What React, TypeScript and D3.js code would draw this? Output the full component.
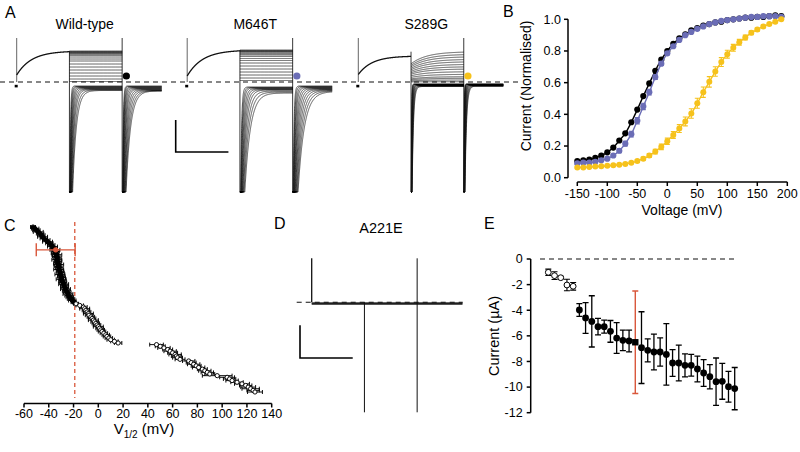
import React from 'react';
import * as d3 from 'd3';

const FONT = "'Liberation Sans', Arial, Helvetica, sans-serif";
const RED = '#d9573b';
const BLUE = '#6b6db6';
const YELLOW = '#f6c21c';

// ---------------- Panel A (current traces, arbitrary units µA / ms) ----------------
const A_TITLES = ['Wild-type', 'M646T', 'S289G'];
const A_DOT_COLORS = ['#000000', BLUE, YELLOW];
const A_PRE_START = [0.7, 0.6, 0.75];
const A_PRE_END = [3.1, 3.2, 2.6];
const A_PRE_TAU = [280, 290, 260];
const A_PEAK = -25;
const WT_OUT = [3.1, 3.05, 3.0, 2.95, 2.9, 2.85, 2.75, 2.65, 2.5, 2.3, 2.1, 1.8, 1.5, 1.2, 0.9, 0.6, 0.3, 0.05];
const M646T_OUT = [3.2, 3.15, 3.1, 3.05, 3.0, 2.9, 2.8, 2.7, 2.55, 2.35, 2.15, 1.9, 1.6, 1.3, 1.0, 0.7, 0.4, 0.15];
const S289G_OUT = [3.03, 2.77, 2.53, 2.27, 2.03, 1.77, 1.53, 1.3, 1.03, 0.77, 0.53, 0.37, 0.2, 0.03];
const A_OUT_ONSET = [1, 1, 0.6];
const A_OUT_TAU = [40, 40, 300];
const WT_IN_LEVEL = [-0.4, -0.45, -0.5, -0.55, -0.6, -0.65, -0.7, -0.75, -0.8, -0.85];
const WT_IN_TAU = [12, 16, 20, 25, 30, 36, 43, 50, 60, 70];
const M646T_IN_LEVEL = [-0.5, -0.55, -0.6, -0.65, -0.7, -0.75, -0.8, -0.9, -1.0, -1.1];
const M646T_IN_TAU = [18, 24, 30, 38, 46, 55, 65, 77, 90, 105];
const S289G_IN_LEVEL = [-0.2, -0.22, -0.25, -0.28, -0.3, -0.33, -0.36, -0.4, -0.42, -0.45];
const S289G_IN_TAU = [6, 7, 8, 10, 12, 14, 16, 19, 22, 25];
const WT_TAIL_LEVEL = [-0.4, -0.45, -0.5, -0.55, -0.6, -0.65, -0.7, -0.75, -0.8, -0.85, -0.88, -0.9];
const WT_TAIL_TAU = [12, 15, 19, 23, 28, 34, 40, 48, 56, 65, 75, 85];
const M646T_TAIL_LEVEL = [-0.4, -0.45, -0.5, -0.55, -0.6, -0.65, -0.7, -0.75, -0.8, -0.85, -0.9, -0.95];
const M646T_TAIL_TAU = [15, 20, 26, 32, 40, 48, 57, 67, 78, 90, 103, 117];
const S289G_TAIL_LEVEL = [-0.2, -0.22, -0.24, -0.26, -0.28, -0.3, -0.32, -0.34, -0.36, -0.38, -0.4, -0.42];
const S289G_TAIL_TAU = [5, 6, 7, 8, 10, 12, 14, 16, 19, 22, 25, 28];
const A_PHASES = [0, 1000, 2000, 2750]; // ms
const A_SCALE_BAR = { current: 3.2, time: 1000 };

// ---------------- Panel B (normalised activation) ----------------
const B_VOLTAGE = [-150, -140, -130, -120, -110, -100, -90, -80, -70, -60, -50, -40, -30, -20, -10, 0, 10, 20, 30, 40, 50, 60, 70, 80, 90, 100, 110, 120, 130, 140, 150, 160, 170, 180, 190];
const B_WT = [0.105, 0.11, 0.115, 0.125, 0.14, 0.16, 0.19, 0.235, 0.28, 0.35, 0.43, 0.515, 0.595, 0.675, 0.745, 0.8, 0.845, 0.88, 0.905, 0.93, 0.945, 0.96, 0.97, 0.98, 0.985, 0.995, 1.0, 1.005, 1.01, 1.01, 1.015, 1.015, 1.02, 1.025, 1.02];
const B_M646T = [0.09, 0.095, 0.095, 0.1, 0.11, 0.12, 0.14, 0.17, 0.215, 0.275, 0.36, 0.45, 0.54, 0.635, 0.72, 0.785, 0.83, 0.87, 0.9, 0.92, 0.94, 0.955, 0.97, 0.98, 0.99, 0.995, 1.0, 1.005, 1.01, 1.015, 1.015, 1.02, 1.02, 1.02, 1.015];
const B_M646T_ERR = [0.005, 0.005, 0.005, 0.005, 0.005, 0.005, 0.008, 0.012, 0.015, 0.018, 0.02, 0.02, 0.018, 0.015, 0.012, 0.01, 0.008, 0.005, 0.005, 0.005, 0.005, 0.005, 0.005, 0.005, 0.005, 0.005, 0.005, 0.005, 0.005, 0.005, 0.005, 0.005, 0.005, 0.005, 0.005];
const B_S289G = [0.065, 0.065, 0.068, 0.07, 0.072, 0.075, 0.078, 0.082, 0.087, 0.095, 0.105, 0.12, 0.14, 0.165, 0.195, 0.23, 0.27, 0.31, 0.355, 0.405, 0.47, 0.54, 0.605, 0.67, 0.73, 0.78, 0.82, 0.855, 0.885, 0.915, 0.935, 0.955, 0.97, 0.985, 1.0];
const B_S289G_ERR = [0.005, 0.005, 0.005, 0.005, 0.005, 0.005, 0.005, 0.005, 0.005, 0.005, 0.008, 0.01, 0.012, 0.015, 0.018, 0.02, 0.022, 0.025, 0.028, 0.03, 0.032, 0.033, 0.033, 0.03, 0.028, 0.025, 0.022, 0.018, 0.015, 0.012, 0.01, 0.008, 0.006, 0.005, 0.005];
const B_X_TICKS = [-150, -100, -50, 0, 50, 100, 150, 200];
const B_Y_TICKS = [0, 0.2, 0.4, 0.6, 0.8, 1.0];

// ---------------- Panel C (V1/2 of individual cells, ranked) ----------------
const C_V = [
  -52.7, -51, -50, -48.5, -47, -46, -45, -44, -42, -41, -39.5, -38, -37,
  -36, -35, -34.5, -35, -33.5, -34, -33, -33.5, -32.5, -33, -32, -32.5, -31.5, -32, -31, -30.5, -31, -30, -29.5, -30, -29, -28.5, -28, -27.5, -27, -26.5, -26, -25, -24.5, -24, -23, -22, -21, -20,
  -18, -15, -12, -11, -10, -9, -8, -7.5, -6, -5, -4, -3, -2, -1, 0, 1, 2, 3, 4.5, 6, 7, 8.5, 10, 13, 16,
  47, 50, 53, 56, 58, 60, 62, 63, 64, 66, 73, 75, 77, 79, 81, 84, 86, 88, 90, 96, 104, 106, 108, 112, 116, 119, 121, 123, 125, 126.5,
];
const C_ERR = [
  2, 3, 3, 4, 3, 3, 4, 3, 3, 4, 3, 3, 4,
  3, 4, 3, 3, 4, 3, 3, 4, 3, 3, 4, 3, 3, 4, 3, 3, 4, 3, 3, 4, 3, 3, 4, 3, 3, 4, 3, 3, 4, 3, 3, 3, 3, 2,
  2, 3, 3, 4, 3, 3, 4, 3, 3, 3, 4, 3, 3, 3, 4, 3, 3, 3, 3, 3, 3, 3, 3, 3, 3,
  5.5, 4, 5, 4, 5, 4, 5, 4, 4, 4, 5, 4, 5, 4, 5, 4, 5, 5, 4, 12, 6, 5, 5, 5, 6, 5, 6, 7, 5, 6,
];
const C_MEAN = -34.4;
const C_MEAN_ERR = 15.7;
const C_MEAN_RANK = 14;
const C_THRESHOLD = -19;
const C_X_TICKS = [-60, -40, -20, 0, 20, 40, 60, 80, 100, 120, 140];

// ---------------- Panel D (A221E trace) ----------------
const D_TITLE = 'A221E';
const D_STEADY = [-0.05, -0.12, -0.2];
const D_PHASES = [0, 1000, 2000, 2860];

// ---------------- Panel E (current amplitudes) ----------------
const E_OPEN = [-1.04, -1.3, -1.46, -2.03, -2.13];
const E_OPEN_ERR = [0.25, 0.3, 0.1, 0.45, 0.3];
const E_FILLED = [-3.98, -4.6, -4.87, -5.28, -5.28, -5.65, -6.17, -6.35, -6.4, -6.5, -6.92, -7.13, -7.26, -7.26, -7.45, -8.12, -8.12, -8.3, -8.3, -8.59, -8.9, -9.19, -9.58, -9.55, -9.97, -10.12];
const E_FILLED_ERR = [0.5, 1.2, 2.0, 0.65, 0.5, 0.85, 1.2, 0.8, 0.85, 4.0, 2.8, 0.9, 1.4, 1.1, 2.4, 1.05, 1.4, 0.9, 0.85, 1.0, 1.05, 0.95, 1.85, 1.4, 1.2, 1.65];
const E_HIGHLIGHT = 9;
const E_Y_TICKS = [0, -2, -4, -6, -8, -10, -12];

// ======================================================================
const tA = d3.scaleLinear().domain([0, 2750]).range([0, 145]);
const yA = d3.scaleLinear().domain([-11, 4.4]).range([192, 38]);
const A_ORIGIN = [16.7, 187.2, 358.3];

function relax(t0: number, t1: number, start: number, end: number, tau: number, step = 2) {
  const pts: [number, number][] = [];
  for (let t = t0; t <= t1 + 1e-6; t += step) {
    const c = end + (start - end) * Math.exp(-(t - t0) / tau);
    pts.push([t, Math.max(-11, Math.min(4.4, c))]);
  }
  return pts;
}

const A_CFG = [
  { out: WT_OUT, inL: WT_IN_LEVEL, inT: WT_IN_TAU, tailL: WT_TAIL_LEVEL, tailT: WT_TAIL_TAU },
  { out: M646T_OUT, inL: M646T_IN_LEVEL, inT: M646T_IN_TAU, tailL: M646T_TAIL_LEVEL, tailT: M646T_TAIL_TAU },
  { out: S289G_OUT, inL: S289G_IN_LEVEL, inT: S289G_IN_TAU, tailL: S289G_TAIL_LEVEL, tailT: S289G_TAIL_TAU },
];

function TraceFamily({ idx }: { idx: number }) {
  const ox = A_ORIGIN[idx];
  const cfg = A_CFG[idx];
  const line = d3.line<[number, number]>().x((d) => ox + tA(d[0])).y((d) => yA(d[1]));
  const [p0, p1, p2, p3] = A_PHASES;
  const paths: string[] = [];
  paths.push(line(relax(p0, p1, A_PRE_START[idx], A_PRE_END[idx], A_PRE_TAU[idx]))!);
  cfg.out.forEach((lv) => {
    paths.push(line(relax(p1, p2, lv * A_OUT_ONSET[idx], lv, A_OUT_TAU[idx], 4))!);
  });
  cfg.inL.forEach((lv, k) => {
    paths.push(line(relax(p1, p2, A_PEAK, lv, cfg.inT[k], 1))!);
  });
  cfg.tailL.forEach((lv, k) => {
    paths.push(line(relax(p2, p3, A_PEAK, lv, cfg.tailT[k], 1))!);
  });
  const x0 = ox + tA(p0);
  const x1 = ox + tA(p1);
  const x2 = ox + tA(p2);
  const topOut = Math.max(d3.max(cfg.out)!, A_PRE_END[idx]);
  return (
    <g>
      <text x={ox + 68} y={29} fontSize={14} textAnchor="middle">{A_TITLES[idx]}</text>
      <rect x={x0 - 2} y={yA(-0.4) - 1.2} width={3} height={2.6} fill="#000" />
      <line x1={x0} x2={x0} y1={yA(4.4)} y2={yA(0)} stroke="#555" strokeWidth={0.9} />
      <line x1={x1} x2={x1} y1={yA(topOut)} y2={yA(-11)} stroke="#222" strokeWidth={0.9} />
      <line x1={x2} x2={x2} y1={yA(4.4)} y2={yA(-11)} stroke="#222" strokeWidth={0.9} />
      {paths.map((p, i) => (
        <path key={i} d={p} fill="none" stroke="#111" strokeWidth={i === 0 ? 1.3 : 0.7} />
      ))}
      <circle cx={x2 + 4.2} cy={yA(0.6)} r={3.6} fill={A_DOT_COLORS[idx]} />
    </g>
  );
}

function PanelA() {
  return (
    <g>
      <text x={5} y={18} fontSize={16}>A</text>
      <line x1={0} x2={520} y1={yA(0)} y2={yA(0)} stroke="#111" strokeWidth={1.2} strokeDasharray="5,4" />
      {[0, 1, 2].map((i) => <TraceFamily key={i} idx={i} />)}
      <path
        d={`M175.7,${yA(0) + 38} V${yA(0) + 38 + A_SCALE_BAR.current * 10} H${175.7 + tA(A_SCALE_BAR.time)}`}
        fill="none" stroke="#000" strokeWidth={1.6}
      />
    </g>
  );
}

// ---------------- B ----------------
function PanelB() {
  const x = d3.scaleLinear().domain([-150, 200]).range([577.3, 787.3]);
  const y = d3.scaleLinear().domain([0, 1]).range([177.7, 19.3]);
  const line = d3.line<number>().x((_, i) => x(B_VOLTAGE[i])).y((d) => y(d)).curve(d3.curveMonotoneX);
  const series = [
    { vals: B_WT, err: null as number[] | null, color: '#000', r: 3.1 },
    { vals: B_M646T, err: B_M646T_ERR, color: BLUE, r: 3.1 },
    { vals: B_S289G, err: B_S289G_ERR, color: YELLOW, r: 3.0 },
  ];
  const axY = 182;
  const axX = 568;
  return (
    <g fontSize={12.5}>
      <text x={503} y={17} fontSize={16}>B</text>
      <line x1={axX} x2={axX} y1={y(1)} y2={y(0)} stroke="#000" strokeWidth={1.5} />
      {B_Y_TICKS.map((t) => (
        <g key={t}>
          <line x1={axX - 4} x2={axX} y1={y(t)} y2={y(t)} stroke="#000" strokeWidth={1.5} />
          <text x={axX - 7} y={y(t) + 4.3} textAnchor="end">{d3.format('.1f')(t)}</text>
        </g>
      ))}
      <line x1={x(-150)} x2={x(200)} y1={axY} y2={axY} stroke="#000" strokeWidth={1.5} />
      {B_X_TICKS.map((t) => (
        <g key={t}>
          <line x1={x(t)} x2={x(t)} y1={axY} y2={axY + 4} stroke="#000" strokeWidth={1.5} />
          <text x={x(t)} y={axY + 16} textAnchor="middle">{t}</text>
        </g>
      ))}
      <text x={682} y={215} fontSize={14} textAnchor="middle">Voltage (mV)</text>
      <text transform="translate(531,86) rotate(-90)" fontSize={14} textAnchor="middle">Current (Normalised)</text>
      {series.map((s, si) => (
        <g key={si}>
          <path d={line(s.vals)!} fill="none" stroke={s.color} strokeWidth={1.4} />
          {s.err && s.vals.map((v, i) => (
            <path key={'e' + i}
              d={`M${x(B_VOLTAGE[i]) - 2.5},${y(v + s.err![i])}H${x(B_VOLTAGE[i]) + 2.5}M${x(B_VOLTAGE[i])},${y(v + s.err![i])}V${y(v - s.err![i])}M${x(B_VOLTAGE[i]) - 2.5},${y(v - s.err![i])}H${x(B_VOLTAGE[i]) + 2.5}`}
              stroke={s.color} strokeWidth={1.1} fill="none" />
          ))}
          {s.vals.map((v, i) => (
            <circle key={i} cx={x(B_VOLTAGE[i])} cy={y(v)} r={s.r} fill={s.color} />
          ))}
        </g>
      ))}
    </g>
  );
}

// ---------------- C ----------------
function PanelC() {
  const x = d3.scaleLinear().domain([-60, 140]).range([24, 271.7]);
  const y = d3.scaleLinear().domain([0, C_V.length - 1]).range([227, 392]);
  const axY = 403.5;
  return (
    <g fontSize={12.5}>
      <text x={4} y={231} fontSize={16}>C</text>
      <line x1={x(C_THRESHOLD)} x2={x(C_THRESHOLD)} y1={222} y2={398} stroke={RED} strokeWidth={1.3} strokeDasharray="4,3" />
      {C_V.map((v, i) => (
        <path key={'e' + i}
          d={`M${x(v - C_ERR[i])},${y(i) - 2}V${y(i) + 2}M${x(v - C_ERR[i])},${y(i)}H${x(v + C_ERR[i])}M${x(v + C_ERR[i])},${y(i) - 2}V${y(i) + 2}`}
          stroke="#000" strokeWidth={0.95} fill="none" />
      ))}
      {C_V.map((v, i) => (
        <circle key={i} cx={x(v)} cy={y(i)} r={2.1} fill={v < C_THRESHOLD ? '#000' : '#fff'} stroke="#000" strokeWidth={0.95} />
      ))}
      <path
        d={`M${x(C_MEAN - C_MEAN_ERR)},${y(C_MEAN_RANK) - 6.5}V${y(C_MEAN_RANK) + 6.5}M${x(C_MEAN - C_MEAN_ERR)},${y(C_MEAN_RANK)}H${x(C_MEAN + C_MEAN_ERR)}M${x(C_MEAN + C_MEAN_ERR)},${y(C_MEAN_RANK) - 6.5}V${y(C_MEAN_RANK) + 6.5}`}
        stroke={RED} strokeWidth={1.4} fill="none" />
      <circle cx={x(C_MEAN)} cy={y(C_MEAN_RANK)} r={2.6} fill={RED} />
      <line x1={x(-60)} x2={x(140)} y1={axY} y2={axY} stroke="#000" strokeWidth={1.5} />
      {C_X_TICKS.map((t) => (
        <g key={t}>
          <line x1={x(t)} x2={x(t)} y1={axY} y2={axY + 4} stroke="#000" strokeWidth={1.5} />
          <text x={x(t)} y={axY + 14.5} textAnchor="middle">{t}</text>
        </g>
      ))}
      <text x={144} y={434} fontSize={15} textAnchor="middle">
        V<tspan fontSize={10} dy={4}>1/2</tspan><tspan dy={-4}> (mV)</tspan>
      </text>
    </g>
  );
}

// ---------------- D ----------------
function PanelD() {
  const ox = 311.7;
  const yD = d3.scaleLinear().domain([-11, 4.4]).range([412.3, 258.3]);
  const x0 = ox + tA(D_PHASES[0]);
  const x1 = ox + tA(D_PHASES[1]);
  const x2 = ox + tA(D_PHASES[2]);
  const x3 = ox + tA(D_PHASES[3]);
  return (
    <g>
      <text x={274} y={229} fontSize={16}>D</text>
      <text x={381} y={233} fontSize={14.5} textAnchor="middle">{D_TITLE}</text>
      <line x1={296.7} x2={462.7} y1={yD(0)} y2={yD(0)} stroke="#111" strokeWidth={1.1} strokeDasharray="5,4" />
      {D_STEADY.map((s, i) => (
        <line key={i} x1={x0} x2={x3} y1={yD(s)} y2={yD(s)} stroke="#111" strokeWidth={0.9} />
      ))}
      <line x1={x0} x2={x0} y1={yD(4.4)} y2={yD(0)} stroke="#111" strokeWidth={1.3} />
      <line x1={x1} x2={x1} y1={yD(0)} y2={yD(-11)} stroke="#111" strokeWidth={1} />
      <line x1={x2} x2={x2} y1={yD(4.4)} y2={yD(-11)} stroke="#111" strokeWidth={1} />
      <path d={`M300,${yD(0) + 23} V${yD(0) + 23 + A_SCALE_BAR.current * 10.2} H${300 + tA(A_SCALE_BAR.time)}`} fill="none" stroke="#000" strokeWidth={1.6} />
    </g>
  );
}

// ---------------- E ----------------
function PanelE() {
  const n = E_OPEN.length + E_FILLED.length;
  const x = d3.scaleLinear().domain([0, n - 1]).range([548.3, 734.7]);
  const y = d3.scaleLinear().domain([-12, 0]).range([412.7, 259]);
  const axX = 530.7;
  const bar = (cx: number, v: number, e: number) =>
    `M${cx - 3},${y(v + e)}H${cx + 3}M${cx},${y(v + e)}V${y(v - e)}M${cx - 3},${y(v - e)}H${cx + 3}`;
  return (
    <g fontSize={12.5}>
      <text x={484} y={229} fontSize={16}>E</text>
      <line x1={axX} x2={axX} y1={y(0)} y2={y(-12)} stroke="#000" strokeWidth={1.5} />
      {E_Y_TICKS.map((t) => (
        <g key={t}>
          <line x1={axX - 4} x2={axX} y1={y(t)} y2={y(t)} stroke="#000" strokeWidth={1.5} />
          <text x={axX - 8} y={y(t) + 4.3} textAnchor="end">{t}</text>
        </g>
      ))}
      <text transform="translate(499,336) rotate(-90)" fontSize={14.5} textAnchor="middle">Current (µA)</text>
      <line x1={540} x2={735} y1={y(0)} y2={y(0)} stroke="#111" strokeWidth={1.2} strokeDasharray="5,4" />
      {E_OPEN.map((v, i) => (
        <g key={'o' + i}>
          <path d={bar(x(i), v, E_OPEN_ERR[i])} stroke="#000" strokeWidth={1.1} fill="none" />
          <circle cx={x(i)} cy={y(v)} r={2.9} fill="#fff" stroke="#000" strokeWidth={1} />
        </g>
      ))}
      {E_FILLED.map((v, k) => {
        const i = k + E_OPEN.length;
        const hl = k === E_HIGHLIGHT;
        return (
          <g key={'f' + k}>
            <path d={bar(x(i), v, E_FILLED_ERR[k])} stroke={hl ? RED : '#000'} strokeWidth={hl ? 1.4 : 1.3} fill="none" />
            {hl ? (
              <rect x={x(i) - 3.2} y={y(v) - 3.2} width={6.4} height={6.4} fill="#000" />
            ) : (
              <circle cx={x(i)} cy={y(v)} r={3.4} fill="#000" />
            )}
          </g>
        );
      })}
    </g>
  );
}

export default function App() {
  return (
    <svg width={800} height={452} style={{ position: 'absolute', left: 0, top: 0, display: 'block' }} fontFamily={FONT}>
      <rect width={800} height={452} fill="#fff" />
      <PanelA />
      <PanelB />
      <PanelC />
      <PanelD />
      <PanelE />
    </svg>
  );
}
